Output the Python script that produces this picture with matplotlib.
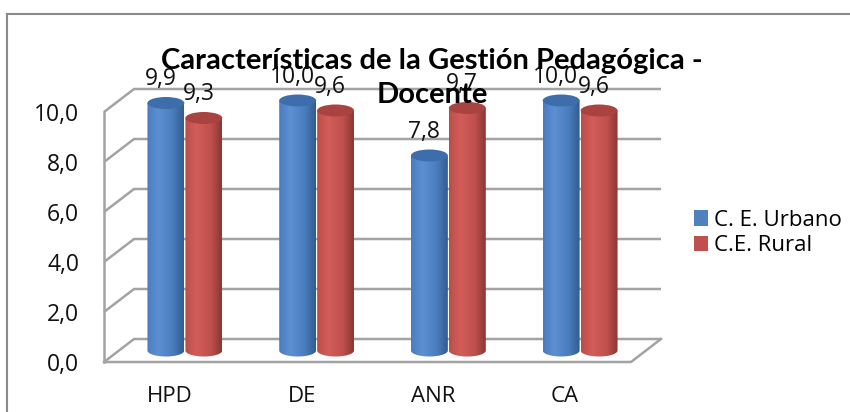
import numpy as np
import matplotlib
matplotlib.use("Agg")
import matplotlib.pyplot as plt
from matplotlib.patches import Ellipse, PathPatch, Patch
from matplotlib.path import Path
from matplotlib.lines import Line2D
from matplotlib.colors import LinearSegmentedColormap

plt.rcParams['font.family'] = ['Open Sans', 'DejaVu Sans']

categories = ['HPD', 'DE', 'ANR', 'CA']
urbano = [9.9, 10.0, 7.8, 10.0]
rural = [9.3, 9.6, 9.7, 9.6]
series_names = ['C. E. Urbano', 'C.E. Rural']
yticks = [0, 2, 4, 6, 8, 10]
title = 'Características de la Gestión Pedagógica -\nDocente'

W, H = 850, 412
fig = plt.figure(figsize=(W / 100, H / 100), dpi=100)
ax = fig.add_axes([0, 0, 1, 1])
ax.set_axis_off()

# pixel layout of the front plane: x=-0.5 at px 104, 131.75 px per category; y=0 at px 362, 25 px per unit
ux, uy = 131.75, 25.0
ax.set_xlim(-0.5 - 104 / ux, -0.5 + (W - 104) / ux)
ax.set_ylim((362 - H) / uy, 362 / uy)

DX, DY = 30 / ux, 23 / uy  # depth offset of back wall
grid_c = '#a3a3a3'

# walls / grid
for v in yticks:
    ax.plot([-0.5, -0.5 + DX, 3.5 + DX], [v, v + DY, v + DY], color=grid_c, lw=1.8, zorder=1,
            solid_capstyle='butt')
ax.plot([-0.5, 3.5, 3.5 + DX], [0, 0, DY], color=grid_c, lw=1.8, zorder=1)
ax.plot([-0.5, -0.5], [0, 10], color=grid_c, lw=1.8, zorder=1)

bw = 0.28
eh = 12 / uy

blue_cmap = LinearSegmentedColormap.from_list('b', [(0, '#4a7cc0'), (0.3, '#5b90d3'), (0.7, '#4a7dbe'), (1, '#335b91')])
red_cmap = LinearSegmentedColormap.from_list('r', [(0, '#bd4d4a'), (0.3, '#d25d5a'), (0.7, '#c0504d'), (1, '#8a3735')])
grad = np.linspace(0, 1, 200)[None, :]


def cylinder(cx, val, cmap, topc, z):
    x0, x1 = cx - bw / 2, cx + bw / 2
    yb, yt = DY / 2, DY / 2 + val
    t = np.linspace(np.pi, 2 * np.pi, 40)
    verts = [(x0, yt), (x0, yb)] + list(zip(cx + bw / 2 * np.cos(t), yb + eh / 2 * np.sin(t))) + [(x1, yt), (x0, yt)]
    path = Path(verts)
    patch = PathPatch(path, fc='none', ec='none')
    ax.add_patch(patch)
    im = ax.imshow(grad, cmap=cmap, extent=[x0, x1, yb - eh, yt], aspect='auto', zorder=z,
                   interpolation='bilinear')
    im.set_clip_path(patch)
    ax.add_patch(Ellipse((cx, yt), bw, eh, fc=topc, ec='none', zorder=z + 0.1))


off = 0.144
for i in range(len(categories)):
    cb = i - off + DX / 2
    cr = i + off + DX / 2
    cylinder(cb, urbano[i], blue_cmap, '#3e6dab', 3 + i)
    cylinder(cr, rural[i], red_cmap, '#a84341', 3.5 + i)
    ax.text(cb - 0.04, DY / 2 + urbano[i] + 0.95, f'{urbano[i]:.1f}'.replace('.', ','),
            ha='center', va='center', fontsize=16.5, color='#111111', zorder=10)
    ax.text(cr - 0.04, DY / 2 + rural[i] + 0.95, f'{rural[i]:.1f}'.replace('.', ','),
            ha='center', va='center', fontsize=16.5, color='#111111', zorder=10)

for v in yticks:
    ax.text(-0.5 - 25 / ux, v - 0.1, f'{v:.1f}'.replace('.', ','), ha='right', va='center', fontsize=16.5,
            color='#111111')
for i, c in enumerate(categories):
    ax.text(i, -1.4, c, ha='center', va='center', fontsize=16, color='#111111')

fig.text(432 / W, 1 - 78 / H, title, ha='center', va='center', fontsize=21, fontweight='bold',
         family=['Lato', 'DejaVu Sans'], linespacing=1.4, color='#000000', zorder=20)

handles = [Patch(fc='#4f81bd', ec='none'), Patch(fc='#c0504d', ec='none')]
ax.legend(handles, series_names, loc='center left', bbox_to_anchor=(694 / W, 1 - 233 / H),
          bbox_transform=fig.transFigure, frameon=False, fontsize=16, handlelength=0.65,
          handleheight=0.7, handletextpad=0.25, labelspacing=0.2, borderpad=0, borderaxespad=0)

# outer chart border
fig.add_artist(Line2D([6.5 / W, 6.5 / W], [0, 1 - 14 / H], color='#8a8a8a', lw=1.5))
fig.add_artist(Line2D([6.5 / W, 1], [1 - 14 / H, 1 - 14 / H], color='#8a8a8a', lw=1.5))

fig.savefig('out.png', dpi=100)
